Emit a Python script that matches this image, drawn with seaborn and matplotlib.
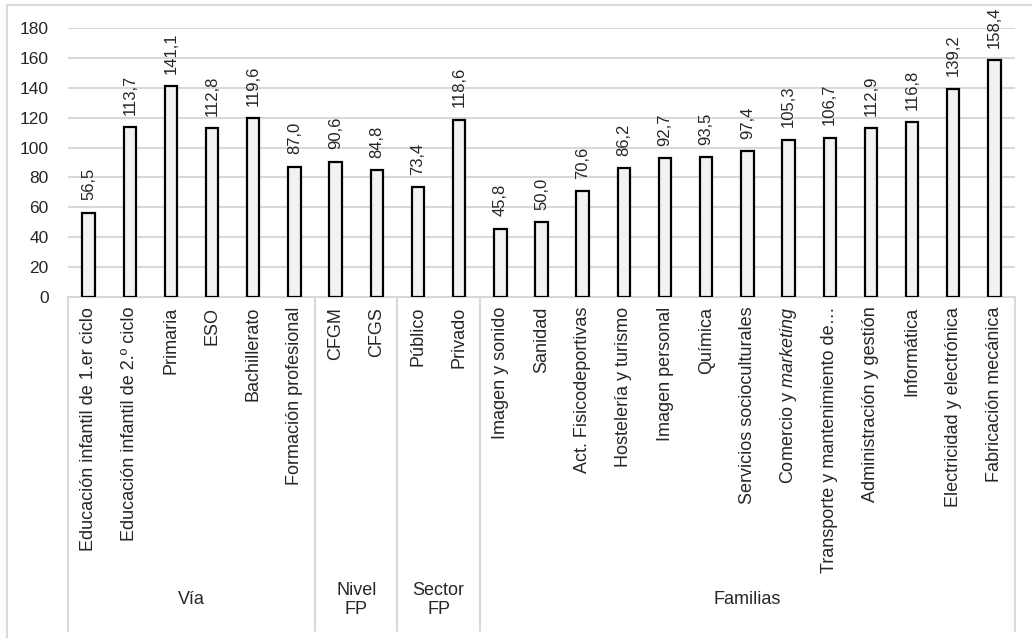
import matplotlib
matplotlib.use("Agg")
import matplotlib.pyplot as plt
import seaborn as sns
import pandas as pd
from matplotlib.patches import Rectangle
import matplotlib.transforms as mtransforms

categories = [
    "Educación infantil de 1.er ciclo", "Educación infantil de 2.º ciclo", "Primaria", "ESO",
    "Bachillerato", "Formación profesional",
    "CFGM", "CFGS",
    "Público", "Privado",
    "Imagen y sonido", "Sanidad", "Act. Fisicodeportivas", "Hostelería y turismo",
    "Imagen personal", "Química", "Servicios socioculturales", r"Comercio y $\it{marketing}$",
    "Transporte y mantenimiento de…", "Administración y gestión", "Informática",
    "Electricidad y electrónica", "Fabricación mecánica",
]
values = [56.5, 113.7, 141.1, 112.8, 119.6, 87.0,
          90.6, 84.8,
          73.4, 118.6,
          45.8, 50.0, 70.6, 86.2, 92.7, 93.5, 97.4, 105.3, 106.7, 112.9, 116.8, 139.2, 158.4]
groups = ["Vía", "Nivel\nFP", "Sector\nFP", "Familias"]
group_sizes = [6, 2, 2, 13]
yticks = [0, 20, 40, 60, 80, 100, 120, 140, 160, 180]

sns.set_theme(style="white")
plt.rcParams['font.family'] = ['Liberation Sans', 'DejaVu Sans']
plt.rcParams['mathtext.fontset'] = 'custom'
plt.rcParams['mathtext.rm'] = 'Liberation Sans'
plt.rcParams['mathtext.it'] = 'Liberation Sans:italic'

TXT = '#262626'
GRID = '#d9d9d9'

W, H = 1032, 638
fig = plt.figure(figsize=(W / 100, H / 100), dpi=100)
x0, x1, y0, y1 = 68, 1015, 297, 28
ax = fig.add_axes([x0 / W, 1 - y0 / H, (x1 - x0) / W, (y0 - y1) / H])

df = pd.DataFrame({"cat": categories, "val": values})
sns.barplot(data=df, x="cat", y="val", order=categories, color="#f2f2f2",
            edgecolor="black", linewidth=1.6, width=0.3, saturation=1, ax=ax, zorder=3)

ax.set_xlim(-0.5, len(categories) - 0.5)
ax.set_ylim(0, 180)
ax.set_yticks(yticks)
ax.set_yticklabels([str(t) for t in yticks], fontsize=12.5, color=TXT)
ax.yaxis.grid(True, color=GRID, linewidth=1.5, zorder=0)
ax.set_axisbelow(True)
ax.tick_params(axis='y', length=0, pad=14)
ax.tick_params(axis='x', length=0, pad=7)
ax.set_xticks(range(len(categories)))
ax.set_xticklabels(categories, rotation=90, va='top', ha='center', fontsize=13, color=TXT)
ax.set_xlabel("")
ax.set_ylabel("")
for s in ['left', 'right', 'top']:
    ax.spines[s].set_visible(False)
ax.spines['bottom'].set_color(GRID)
ax.spines['bottom'].set_linewidth(1.5)

for i, v in enumerate(values):
    ax.annotate(f"{v:.1f}".replace('.', ','), xy=(i, v), xytext=(0, 9),
                textcoords='offset points', rotation=90, ha='center', va='bottom',
                fontsize=12, color=TXT)

trans = mtransforms.blended_transform_factory(ax.transData, ax.transAxes)
ybot = -(631 - y0) / (y0 - y1)
ylab = -(600 - y0) / (y0 - y1)
start = -0.5
bounds = [start]
for g, n in zip(groups, group_sizes):
    end = start + n
    ax.text((start + end) / 2, ylab, g, transform=trans, ha='center', va='center',
            fontsize=13, color=TXT, linespacing=1.15)
    bounds.append(end)
    start = end
for b in bounds:
    ax.plot([b, b], [0, ybot], transform=trans, color=GRID, linewidth=1.5, clip_on=False)

fig.patches.append(Rectangle((7 / W, -0.1), 1.2, 1 - 5 / H + 0.1, transform=fig.transFigure,
                             fill=False, edgecolor=GRID, linewidth=1.5))

fig.savefig("out.png", dpi=100)
